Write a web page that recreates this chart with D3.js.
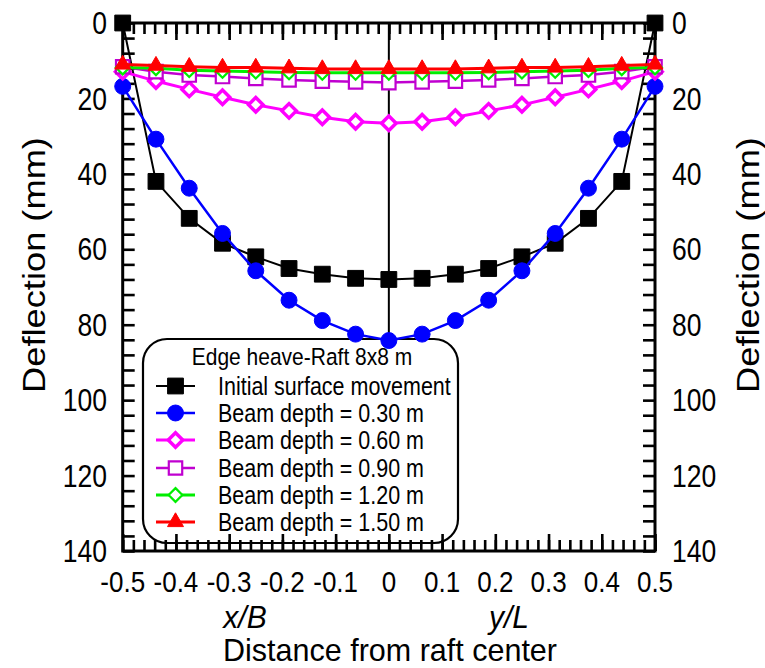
<!DOCTYPE html>
<html><head><meta charset="utf-8">
<script src="https://cdn.jsdelivr.net/npm/d3@7"></script>
<style>body{margin:0;background:#fff}svg{display:block}text{font-family:Arial,"Liberation Sans",sans-serif;fill:#000}</style>
</head><body>
<svg id="c" width="765" height="668"></svg>
<script>
// ---- data ----
const xPos = [-0.5,-0.4375,-0.375,-0.3125,-0.25,-0.1875,-0.125,-0.0625,0,0.0625,0.125,0.1875,0.25,0.3125,0.375,0.4375,0.5];
const initialMovement = [0,42,51.8,58.4,62,65.1,66.6,67.7,68,67.7,66.6,65.1,62,58.4,51.8,42,0];
const beam030 = [16.8,30.8,43.8,55.8,65.7,73.5,78.9,82.5,84.2,82.5,78.9,73.5,65.7,55.8,43.8,30.8,16.8];
const beam060 = [12.9,15.4,17.6,19.7,21.7,23.3,25.0,26.2,26.6,26.2,25.0,23.3,21.7,19.7,17.6,15.4,12.9];
const beam090 = [11.6,12.9,13.8,14.2,14.7,15.1,15.4,15.6,15.8,15.6,15.4,15.1,14.7,14.2,13.8,12.9,11.6];
const beam120 = [11.8,12.0,12.5,12.7,12.9,13.1,13.2,13.2,13.2,13.2,13.2,13.1,12.9,12.7,12.5,12.0,11.8];
const beam150 = [11.0,11.3,11.6,11.8,11.8,12.0,12.2,12.2,12.2,12.2,12.2,12.0,11.8,11.8,11.6,11.3,11.0];
const seriesNames = ["Initial surface movement","Beam depth = 0.30 m","Beam depth = 0.60 m","Beam depth = 0.90 m","Beam depth = 1.20 m","Beam depth = 1.50 m"];
const xTickValues = [-0.5,-0.4,-0.3,-0.2,-0.1,0,0.1,0.2,0.3,0.4,0.5];
const xTickLabels = ["-0.5","-0.4","-0.3","-0.2","-0.1","0","0.1","0.2","0.3","0.4","0.5"];
const yTickValues = [0,20,40,60,80,100,120,140];
const legendTitle = "Edge heave-Raft 8x8 m";

// ---- layout ----
const svg = d3.select("#c");
const L=122.7, R=655, T=23, B=551;
const S = 1.17; // vertical stretch of the reference's lettering
const x = d3.scaleLinear().domain([-0.5,0.5]).range([L,R]);
const y = d3.scaleLinear().domain([0,140]).range([T,B]);

// square diamond symbol (rotated square)
const diamondSq = { draw(ctx, size){ const r=Math.sqrt(size/2); ctx.moveTo(0,-r); ctx.lineTo(r,0); ctx.lineTo(0,r); ctx.lineTo(-r,0); ctx.closePath(); } };

const styles = [
  {color:"#000000", sym:d3.symbolSquare, size:250, fill:true, lw:2, sw:1},
  {color:"#0000ff", sym:d3.symbolCircle, size:200, fill:true, lw:2.5, sw:1},
  {color:"#ff00ff", sym:diamondSq, size:105, fill:false, lw:3, sw:3.5},
  {color:"#c000d0", sym:d3.symbolSquare, size:180, fill:false, lw:2.5, sw:2.2},
  {color:"#00ee00", sym:diamondSq, size:95, fill:false, lw:3, sw:2.2},
  {color:"#ff0000", sym:d3.symbolTriangle, size:110, fill:true, lw:3, sw:1}
];
const allSeries = [initialMovement, beam030, beam060, beam090, beam120, beam150];

function txt(px, py, str, size, anchor, opt={}){
  const s = opt.s !== undefined ? opt.s : S;
  const t = svg.append("text")
    .attr("transform", opt.vertical ? `translate(${px},${py}) rotate(-90) scale(${s},1)` : `translate(${px},${py}) scale(1,${s})`)
    .attr("text-anchor", anchor).attr("font-size", size).text(str);
  if (opt.dy) t.attr("dy", opt.dy);
  if (opt.italic) t.attr("font-style","italic");
  return t;
}

// center vertical line
svg.append("line").attr("x1",x(0)).attr("x2",x(0)).attr("y1",T).attr("y2",B)
  .attr("stroke","#000").attr("stroke-width",2);

// legend box
const lg = {x:143,y:339,w:315,h:204};
svg.append("rect").attr("x",lg.x).attr("y",lg.y).attr("width",lg.w).attr("height",lg.h)
  .attr("rx",24).attr("ry",24).attr("fill","#fff").attr("stroke","#000").attr("stroke-width",2.2);

// ticks
const minorX = d3.range(-0.5,0.5001,0.02).map(v=>+v.toFixed(3));
function ax(gen, tx, ty){ const g=svg.append("g").attr("transform",`translate(${tx},${ty})`).call(gen);
  g.select(".domain").remove(); g.selectAll("line").attr("stroke","#000").attr("stroke-width",2.6); g.selectAll("text").remove(); return g;}
ax(d3.axisTop(x).tickValues(minorX).tickSize(-11),0,T);
ax(d3.axisTop(x).tickValues(xTickValues).tickSize(-17),0,T);
ax(d3.axisBottom(x).tickValues(minorX).tickSize(-11),0,B);
ax(d3.axisBottom(x).tickValues(xTickValues).tickSize(-17),0,B);
const minorY = d3.range(0,140.01,4);
ax(d3.axisLeft(y).tickValues(minorY).tickSize(-12),L,0);
ax(d3.axisRight(y).tickValues(minorY).tickSize(-12),R,0);

// frame
svg.append("rect").attr("x",L).attr("y",T).attr("width",R-L).attr("height",B-T)
  .attr("fill","none").attr("stroke","#000").attr("stroke-width",3);

// tick labels
xTickValues.forEach((v,i)=>txt(x(v), 592, xTickLabels[i], 26, "middle"));
yTickValues.forEach(v=>{
  txt(107, y(v), String(v), 26.5, "end", {dy:"0.36em"});
  txt(672, y(v), String(v), 26.5, "start", {dy:"0.36em"});
});

// axis titles
txt(45, 265, "Deflection (mm)", 31, "middle", {vertical:true});
txt(759, 265, "Deflection (mm)", 31, "middle", {vertical:true});
txt(245, 628, "x/B", 30, "middle", {italic:true, s:1.05});
txt(509, 628, "y/L", 30, "middle", {italic:true, s:1.05});
txt(390, 661, "Distance from raft center", 30.5, "middle", {s:1.0});

// series
const line = d3.line().x((d,i)=>x(xPos[i])).y(d=>y(d));
allSeries.forEach((s,k)=>{
  const st = styles[k];
  const g = svg.append("g");
  g.append("path").datum(s).attr("d",line).attr("fill","none").attr("stroke",st.color).attr("stroke-width",st.lw);
  g.selectAll("path.m").data(s).join("path").attr("class","m")
    .attr("transform",(d,i)=>`translate(${x(xPos[i])},${y(d)})`)
    .attr("d",d3.symbol(st.sym,st.size)())
    .attr("fill",st.fill?st.color:"#fff").attr("stroke",st.color).attr("stroke-width",st.sw);
});

// legend content
txt(302, 365, legendTitle, 21, "middle");
const rowY = [386,413,440,468,495,522];
seriesNames.forEach((n,k)=>{
  const st = styles[k], yy=rowY[k];
  svg.append("line").attr("x1",156).attr("x2",195).attr("y1",yy).attr("y2",yy).attr("stroke",st.color).attr("stroke-width",st.lw);
  svg.append("path").attr("transform",`translate(175.5,${yy})`).attr("d",d3.symbol(st.sym,st.size)())
    .attr("fill",st.fill?st.color:"#fff").attr("stroke",st.color).attr("stroke-width",st.sw);
  txt(218, yy, n, 21.5, "start", {dy:"0.36em"});
});
</script>
</body></html>
